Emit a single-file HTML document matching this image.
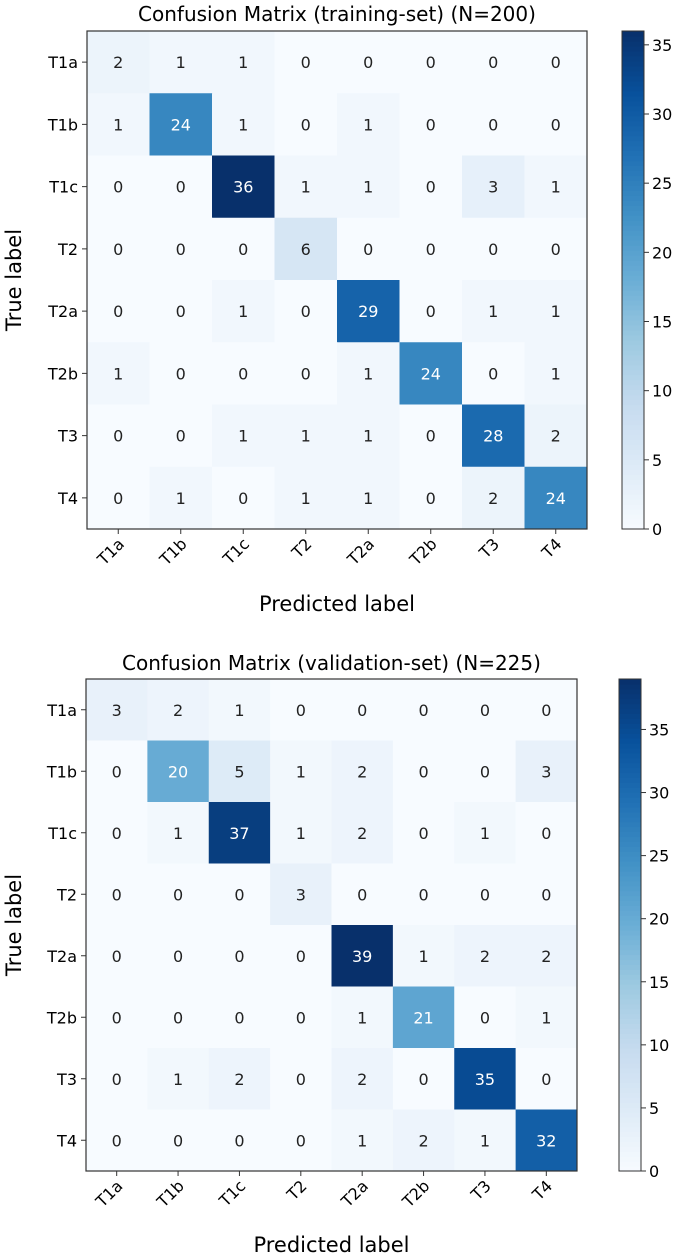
<!DOCTYPE html>
<html><head><meta charset="utf-8"><style>
body{margin:0;background:#fff;width:685px;height:1256px;overflow:hidden}
svg{display:block;font-family:"DejaVu Sans","Liberation Sans",sans-serif}
</style></head><body>
<svg id="svg" width="685" height="1256"></svg>
<script>
const labels=["T1a","T1b","T1c","T2","T2a","T2b","T3","T4"];
const trainValues=[
[2,1,1,0,0,0,0,0],
[1,24,1,0,1,0,0,0],
[0,0,36,1,1,0,3,1],
[0,0,0,6,0,0,0,0],
[0,0,1,0,29,0,1,1],
[1,0,0,0,1,24,0,1],
[0,0,1,1,1,0,28,2],
[0,1,0,1,1,0,2,24]];
const valValues=[
[3,2,1,0,0,0,0,0],
[0,20,5,1,2,0,0,3],
[0,1,37,1,2,0,1,0],
[0,0,0,3,0,0,0,0],
[0,0,0,0,39,1,2,2],
[0,0,0,0,1,21,0,1],
[0,1,2,0,2,0,35,0],
[0,0,0,0,1,2,1,32]];
const trainTicks=[0,5,10,15,20,25,30,35];
const valTicks=[0,5,10,15,20,25,30,35];
const titles=["Confusion Matrix (training-set) (N=200)","Confusion Matrix (validation-set) (N=225)"];

const NS="http://www.w3.org/2000/svg";
const svg=document.getElementById('svg');
const stops=[[247,251,255],[222,235,247],[198,219,239],[158,202,225],[107,174,214],[66,146,198],[33,113,181],[8,81,156],[8,48,107]];
function blues(t){t=Math.max(0,Math.min(1,t));const p=t*8,i=Math.min(7,Math.floor(p)),f=p-i;
const a=stops[i],b=stops[i+1];return `rgb(${a.map((v,k)=>Math.round(v+(b[k]-v)*f)).join(',')})`;}
function el(tag,attrs,parent,text){const e=document.createElementNS(NS,tag);for(const k in attrs)e.setAttribute(k,attrs[k]);if(text!==undefined)e.textContent=text;(parent||svg).appendChild(e);return e;}

function drawChart(values,ticks,title,L,T,R,B,cbx,titleY,xlabY,name){
  const g=el('g',{});
  
  
  const n=labels.length,cw=(R-L)/n,ch=(B-T)/n;
  const max=Math.max(...values.flat());
  const xs=i=>L+cw*(i+0.5), ys=j=>T+ch*(j+0.5);
  const t=el('text',{x:(L+R)/2,y:titleY,'text-anchor':'middle','font-size':20,fill:'#000'},g,title);
  
  
  values.forEach((row,j)=>row.forEach((v,i)=>{
    const r=el('rect',{x:L+cw*i,y:T+ch*j,width:cw+0.5,height:ch+0.5,fill:blues(v/max)},g);
    
    
    const tx=el('text',{x:xs(i),y:ys(j)+6,'text-anchor':'middle','font-size':16,fill:v>max/2?'#fff':'#222'},g,String(v));
    
    
  }));
  el('rect',{x:L,y:T,width:R-L,height:B-T,fill:'none',stroke:'#333','stroke-width':1.2},g);
  labels.forEach((lab,j)=>{
    el('line',{x1:L-5,x2:L,y1:ys(j),y2:ys(j),stroke:'#333'},g);
    const a=el('text',{x:L-9,y:ys(j)+6,'text-anchor':'end','font-size':16},g,lab);
    
    
    el('line',{x1:xs(j),x2:xs(j),y1:B,y2:B+5,stroke:'#333'},g);
    const b=el('text',{x:xs(j)+7,y:B+16,'text-anchor':'end','font-size':16,transform:`rotate(-45 ${xs(j)+7} ${B+16})`},g,lab);
    
    
  });
  const yl=el('text',{x:21,y:(T+B)/2,'text-anchor':'middle','font-size':21,transform:`rotate(-90 21 ${(T+B)/2})`},g,'True label');
  
  
  const xl=el('text',{x:(L+R)/2,y:xlabY,'text-anchor':'middle','font-size':21},g,'Predicted label');
  
  
  const cb=el('g',{},g);
  
  
  const steps=100,h=(B-T)/steps;
  for(let k=0;k<steps;k++){el('rect',{x:cbx,y:B-h*(k+1),width:22,height:h+0.6,fill:blues((k+0.5)/steps)},cb);}
  el('rect',{x:cbx,y:T,width:22,height:B-T,fill:'none',stroke:'#333'},cb);
  const cy=v=>B-(B-T)*v/max;
  ticks.forEach(v=>{
    el('line',{x1:cbx+22,x2:cbx+27,y1:cy(v),y2:cy(v),stroke:'#333'},cb);
    const tl=el('text',{x:cbx+30,y:cy(v)+6,'font-size':16},cb,String(v));
    
    
  });
}
drawChart(trainValues,trainTicks,titles[0],87,31,587,529,622,21,611,'training-confusion-matrix');
drawChart(valValues,valTicks,titles[1],86,679,577,1171,619,670,1252,'validation-confusion-matrix');
</script>
</body></html>
